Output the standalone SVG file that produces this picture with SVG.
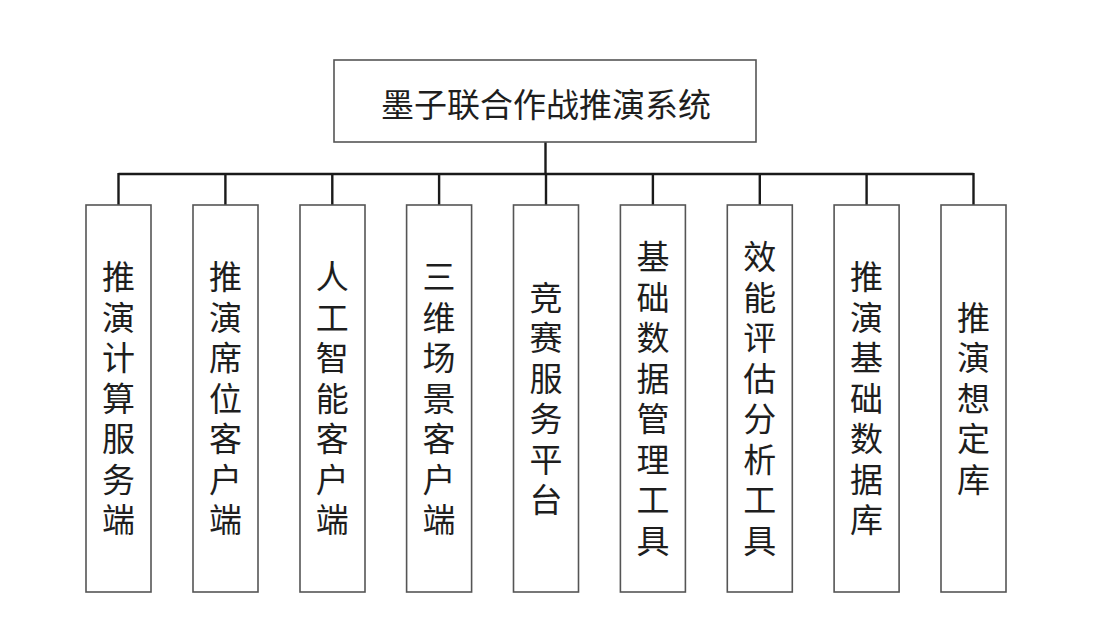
<svg xmlns="http://www.w3.org/2000/svg" width="1108" height="634" viewBox="0 0 1108 634">
<style>
.box{fill:#fff;stroke:#555;stroke-width:1.6}
.ln{stroke:#1a1a1a;stroke-width:2.4;fill:none}
.t{font-family:"Noto Sans CJK SC","Noto Sans",sans-serif;font-size:33px;fill:#1e1e1e;text-anchor:middle;dominant-baseline:central}
.v{font-family:"Noto Sans CJK SC","Noto Sans",sans-serif;font-size:33px;fill:#1e1e1e;text-anchor:middle;writing-mode:vertical-rl;letter-spacing:7.5px}
</style>
<rect width="1108" height="634" fill="#fff"/>
<g id="connectors">
<path class="ln" d="M545.5 142V174M118.5 174H973.5M118.5 173V205M225.4 173V205M332.3 173V205M439.1 173V205M546 173V205M652.9 173V205M759.8 173V205M866.6 173V205M973.5 173V205"/>
</g>
<g id="root">
<rect class="box" x="334" y="60" width="422" height="82"/>
<text class="t" x="546" y="103">墨子联合作战推演系统</text>
</g>
<g id="n1">
<rect class="box" x="86" y="205" width="65" height="387"/>
<text class="v" x="118.5" y="402">推演计算服务端</text>
</g>
<g id="n2">
<rect class="box" x="193" y="205" width="65" height="387"/>
<text class="v" x="225.4" y="402">推演席位客户端</text>
</g>
<g id="n3">
<rect class="box" x="300" y="205" width="65" height="387"/>
<text class="v" x="332.3" y="402">人工智能客户端</text>
</g>
<g id="n4">
<rect class="box" x="406.6" y="205" width="65" height="387"/>
<text class="v" x="439.1" y="402">三维场景客户端</text>
</g>
<g id="n5">
<rect class="box" x="513.5" y="205" width="65" height="387"/>
<text class="v" x="546" y="402">竞赛服务平台</text>
</g>
<g id="n6">
<rect class="box" x="620.4" y="205" width="65" height="387"/>
<text class="v" x="652.9" y="402">基础数据管理工具</text>
</g>
<g id="n7">
<rect class="box" x="727.3" y="205" width="65" height="387"/>
<text class="v" x="759.8" y="402">效能评估分析工具</text>
</g>
<g id="n8">
<rect class="box" x="834.1" y="205" width="65" height="387"/>
<text class="v" x="866.6" y="402">推演基础数据库</text>
</g>
<g id="n9">
<rect class="box" x="941" y="205" width="65" height="387"/>
<text class="v" x="973.5" y="402">推演想定库</text>
</g>
</svg>
